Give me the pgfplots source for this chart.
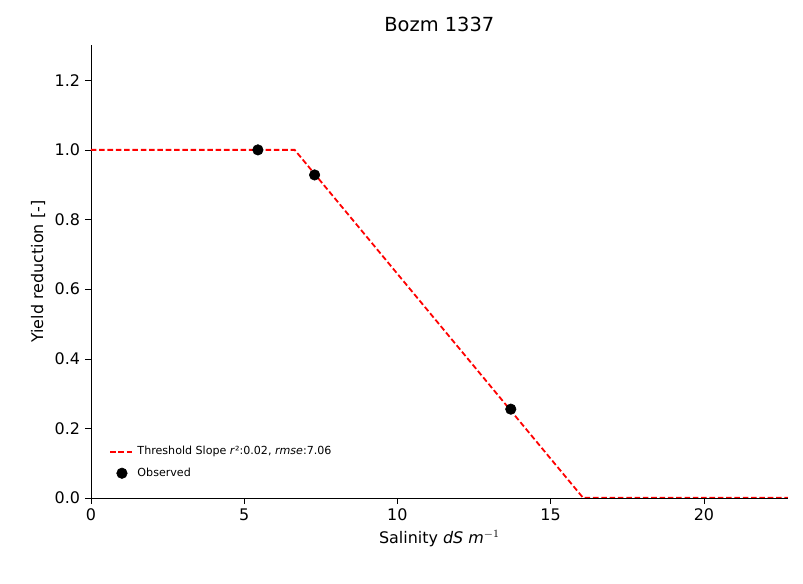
\documentclass[border=0pt]{standalone}
\usepackage{pgfplots}
\pgfplotsset{compat=1.18}
\usepackage{fontspec}
\setmainfont{DejaVu Sans}
\begin{document}
\begin{tikzpicture}
\path[use as bounding box] (-65.5pt,-62pt) rectangle (513.5pt,359pt);
\begin{axis}[scale only axis, width=502.6pt, height=326.2pt,
 xmin=0, xmax=22.74, ymin=0, ymax=1.3,
 axis x line*=bottom, axis y line*=left, axis line style={-},
 xtick={0,5,10,15,20}, ytick={0,0.2,0.4,0.6,0.8,1.0,1.2},
 yticklabel style={/pgf/number format/.cd,fixed,fixed zerofill,precision=1},
 /pgf/number format/assume math mode=true,
 tick label style={font=\fontsize{11.5}{13}\selectfont},
 tick align=outside, tick style={black},
 title={Bozm 1337}, title style={font=\fontsize{14}{16}\selectfont},
 xlabel={Salinity \textit{dS m}$^{-1}$}, ylabel={Yield reduction [-]},
 label style={font=\fontsize{11.5}{13}\selectfont},
 legend style={draw=none, fill=none, at={(0.02,0.03)}, anchor=south west, font=\fontsize{8}{10}\selectfont, row sep=4pt},
 legend cell align=left]
\addplot[color=red, dash pattern=on 4pt off 2pt, line width=1.3pt] coordinates {(0,1) (6.65,1) (16.06,0) (22.74,0)};
\addlegendentry{Threshold Slope \textit{r}²:0.02, \textit{rmse}:7.06}
\addplot[only marks, mark=*, mark size=3.8pt, black] coordinates {(5.45,1.0) (7.3,0.928) (13.7,0.255)};
\addlegendentry{Observed}
\end{axis}
\end{tikzpicture}
\end{document}
